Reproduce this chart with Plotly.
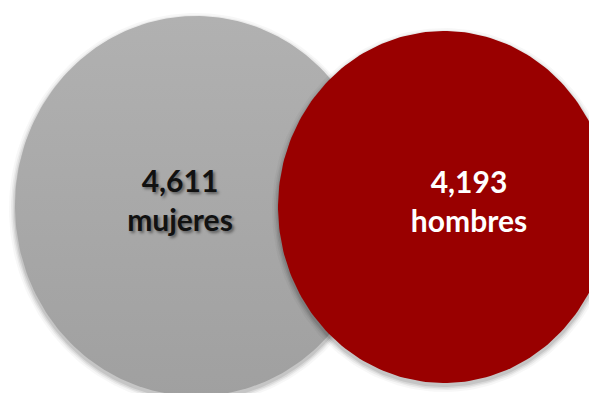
import numpy as np
import plotly.graph_objects as go

# Datos
grupos = ['mujeres', 'hombres']
valores = [4611, 4193]

# Estilo / posiciones (pixeles del lienzo 597x393)
centros = [(188, 198), (436, 199)]
radios = [(181, 190), (166, 176)]
colores = [('#A0A0A0', '#B1B1B1'), ('#990000', '#990000')]
color_texto = ['#111111', '#FFFFFF']
pos_texto = [(172, 196), (461, 197)]

t = np.linspace(0, 2 * np.pi, 240)

fig = go.Figure()

for (cx, cy), (rx, ry), (c1, c2) in zip(centros, radios, colores):
    # sombra suave
    for k, op in [(6, 0.03), (4, 0.05), (2.5, 0.07), (1, 0.09)]:
        fig.add_trace(go.Scatter(
            x=cx + (rx + k) * np.cos(t), y=cy + 3 + (ry + k) * np.sin(t),
            mode='lines', line=dict(width=0), fill='toself',
            fillcolor=f'rgba(0,0,0,{op})', hoverinfo='skip', showlegend=False
        ))
    fig.add_trace(go.Scatter(
        x=cx + rx * np.cos(t), y=cy + ry * np.sin(t),
        mode='lines', line=dict(width=0), fill='toself',
        fillgradient=dict(type='vertical', colorscale=[[0, c1], [1, c2]]),
        hoverinfo='skip', showlegend=False
    ))

for g, v, (tx, ty), col in zip(grupos, valores, pos_texto, color_texto):
    sombra = '2px 2px 3px rgba(0,0,0,0.45)' if col != '#FFFFFF' else 'none'
    fig.add_trace(go.Scatter(
        x=[tx], y=[ty], mode='text',
        text=[f'<b>{v:,}<br>{g}</b>'],
        textfont=dict(family='Lato, Open Sans, sans-serif', size=30, color=col, shadow=sombra),
        hoverinfo='skip', showlegend=False
    ))

fig.update_layout(
    width=597, height=393,
    margin=dict(l=0, r=0, t=0, b=0),
    paper_bgcolor='white', plot_bgcolor='white',
    xaxis=dict(range=[0, 597], visible=False, fixedrange=True),
    yaxis=dict(range=[393, 0], visible=False, fixedrange=True),
    showlegend=False
)

fig.write_html("out.html")
